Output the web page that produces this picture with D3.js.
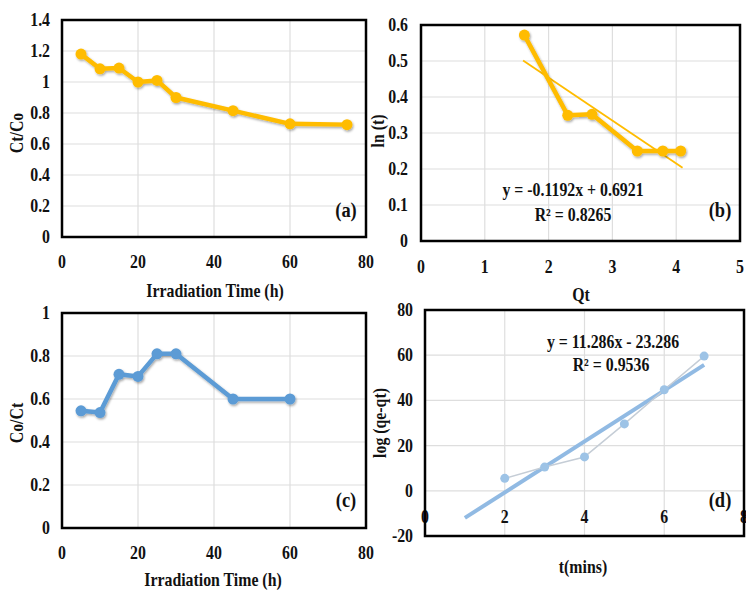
<!DOCTYPE html>
<html>
<head>
<meta charset="utf-8">
<script src="https://cdnjs.cloudflare.com/ajax/libs/d3/7.8.5/d3.min.js"></script>
<style>
body{margin:0;background:#fff;}
text{font-family:"Liberation Serif","Times New Roman",serif;font-weight:bold;fill:#111;}
</style>
</head>
<body>
<script>
var width = 746;
var height = 590;

// (a) Ct/Co against irradiation time
var timeA = [5,10,15,20,25,30,45,60,75];
var ctcoA = [1.18,1.085,1.09,1.0,1.01,0.9,0.815,0.73,0.725];
var xTicksA = [0,20,40,60,80];
var yTicksA = [0,0.2,0.4,0.6,0.8,1,1.2,1.4];

// (b) ln(t) against Qt, with linear fit
var qtB = [1.62,2.3,2.68,3.39,3.79,4.07];
var lntB = [0.572,0.349,0.352,0.25,0.25,0.25];
var fitB = [-0.1192,0.6921];      // slope, intercept
var fitRangeB = [1.6,4.1];
var xTicksB = [0,1,2,3,4,5];
var yTicksB = [0,0.1,0.2,0.3,0.4,0.5,0.6];

// (c) Co/Ct against irradiation time
var timeC = [5,10,15,20,25,30,45,60];
var coctC = [0.545,0.537,0.715,0.705,0.81,0.81,0.6,0.6];
var xTicksC = [0,20,40,60,80];
var yTicksC = [0,0.2,0.4,0.6,0.8,1];

// (d) log(qe-qt) against t, with linear fit
var tD = [2,3,4,5,6,7];
var logD = [5.5,10.5,15,29.6,44.7,59.6];
var fitD = [11.286,-23.286];
var fitRangeD = [1,7];
var xTicksD = [0,2,4,6,8];
var yTicksD = [-20,0,20,40,60,80];

var svg = d3.select('body').append('svg')
	.attr('width',width)
	.attr('height',height);

// soft shadow under the thick series lines
svg.append('defs').append('filter').attr('id','shadow')
	.attr('x','-10%').attr('y','-10%').attr('width','130%').attr('height','130%')
	.append('feDropShadow').attr('dx',1).attr('dy',1.5).attr('stdDeviation',1)
	.attr('flood-color','#000').attr('flood-opacity',0.35);

var fmt = d=>String(+d.toFixed(1));
var SX = 0.88;   // narrow the serif like the original

function txt(g,x,y,s,size,anchor,rot){
	return g.append('text')
		.attr('transform','translate('+x+','+y+')'+(rot?' rotate(-90)':'')+' scale('+SX+',1)')
		.attr('text-anchor',anchor||'middle')
		.style('font-size',size+'px')
		.text(s);
}

function panel(p){
	var x = d3.scaleLinear().domain(p.xDomain).range([p.box[0],p.box[2]]);
	var y = d3.scaleLinear().domain(p.yDomain).range([p.box[3],p.box[1]]);
	var g = svg.append('g');

	// grid
	g.selectAll('.hg').data(p.yTicks).enter().append('line')
		.attr('x1',p.box[0]).attr('x2',p.box[2])
		.attr('y1',d=>y(d)).attr('y2',d=>y(d))
		.attr('stroke','#dedede').attr('stroke-width',1.2);
	g.selectAll('.vg').data(p.xTicks).enter().append('line')
		.attr('y1',p.box[1]).attr('y2',p.box[3])
		.attr('x1',d=>x(d)).attr('x2',d=>x(d))
		.attr('stroke','#dedede').attr('stroke-width',1.2);

	// tick labels
	p.yTicks.forEach(d=>txt(g,p.yLabelX,y(d)+6,fmt(d),18,'end'));
	p.xTicks.forEach(d=>txt(g,x(d),p.xLabelY,fmt(d),18,'middle'));

	// fit line
	if(p.fit){
		g.append('line')
			.attr('x1',x(p.fitRange[0])).attr('y1',y(p.fit[0]*p.fitRange[0]+p.fit[1]))
			.attr('x2',x(p.fitRange[1])).attr('y2',y(p.fit[0]*p.fitRange[1]+p.fit[1]))
			.attr('stroke',p.fitColor).attr('stroke-width',p.fitWidth);
	}

	var pts = p.xs.map((v,i)=>[v,p.ys[i]]);
	var s = g.append('g');
	if(p.shadow) s.attr('filter','url(#shadow)');
	s.append('path').datum(pts)
		.attr('d',d3.line().x(d=>x(d[0])).y(d=>y(d[1])))
		.attr('fill','none').attr('stroke',p.lineColor)
		.attr('stroke-width',p.lineWidth).attr('stroke-linejoin','round');
	s.selectAll('.pt').data(pts).enter().append('circle')
		.attr('cx',d=>x(d[0])).attr('cy',d=>y(d[1])).attr('r',p.r)
		.attr('fill',p.markColor);

	// frame
	g.append('rect')
		.attr('x',p.box[0]).attr('y',p.box[1])
		.attr('width',p.box[2]-p.box[0]).attr('height',p.box[3]-p.box[1])
		.attr('fill','none').attr('stroke','#000').attr('stroke-width',2.5);

	// titles
	txt(g,p.xTitle[0],p.xTitle[1],p.xName,18,'middle');
	txt(g,p.yTitle[0]+6,p.yTitle[1],p.yName,18,'middle',true);
	txt(g,p.tag[0],p.tag[1]+7,p.tagText,21,'middle');
	if(p.eq){
		p.eq.forEach(e=>txt(g,e[0],e[1],e[2],18,'middle'));
	}
}

panel({box:[62,20,366,237],xDomain:[0,80],yDomain:[0,1.4],xTicks:xTicksA,yTicks:yTicksA,
	xs:timeA,ys:ctcoA,lineColor:'#FFBC00',lineWidth:4.5,markColor:'#FFBC00',r:5.5,shadow:true,
	yLabelX:50,xLabelY:268,xTitle:[215,297],xName:'Irradiation Time (h)',yTitle:[17,133],yName:'Ct/Co',
	tag:[346,210],tagText:'(a)'});

panel({box:[421,25,740,241],xDomain:[0,5],yDomain:[0,0.6],xTicks:xTicksB,yTicks:yTicksB,
	xs:qtB,ys:lntB,lineColor:'#FFBC00',lineWidth:4.5,markColor:'#FFBC00',r:5.5,shadow:true,
	fit:fitB,fitRange:fitRangeB,fitColor:'#FFBC00',fitWidth:1.8,
	yLabelX:408,xLabelY:273,xTitle:[581,301],xName:'Qt',yTitle:[378,131],yName:'ln (t)',
	tag:[720,210],tagText:'(b)',
	eq:[[573,196,'y = -0.1192x + 0.6921'],[573,221,'R\u00b2 = 0.8265']]});

panel({box:[62,313,366,528],xDomain:[0,80],yDomain:[0,1],xTicks:xTicksC,yTicks:yTicksC,
	xs:timeC,ys:coctC,lineColor:'#5B9BD5',lineWidth:4.5,markColor:'#5B9BD5',r:5.5,shadow:true,
	yLabelX:50,xLabelY:559,xTitle:[213,586],xName:'Irradiation Time (h)',yTitle:[17,423],yName:'Co/Ct',
	tag:[346,500],tagText:'(c)'});

panel({box:[425,310,744,536],xDomain:[0,8],yDomain:[-20,80],xTicks:xTicksD,yTicks:yTicksD,
	xs:tD,ys:logD,lineColor:'#C5CDD6',lineWidth:1.5,markColor:'#9DC3E6',r:4.5,
	fit:fitD,fitRange:fitRangeD,fitColor:'#91BAE3',fitWidth:4,
	yLabelX:413,xLabelY:523,xTitle:[583,573],xName:'t(mins)',yTitle:[380,423],yName:'log (qe-qt)',
	tag:[720,500],tagText:'(d)',
	eq:[[613,348,'y = 11.286x - 23.286'],[611,371,'R\u00b2 = 0.9536']]});
</script>
</body>
</html>
